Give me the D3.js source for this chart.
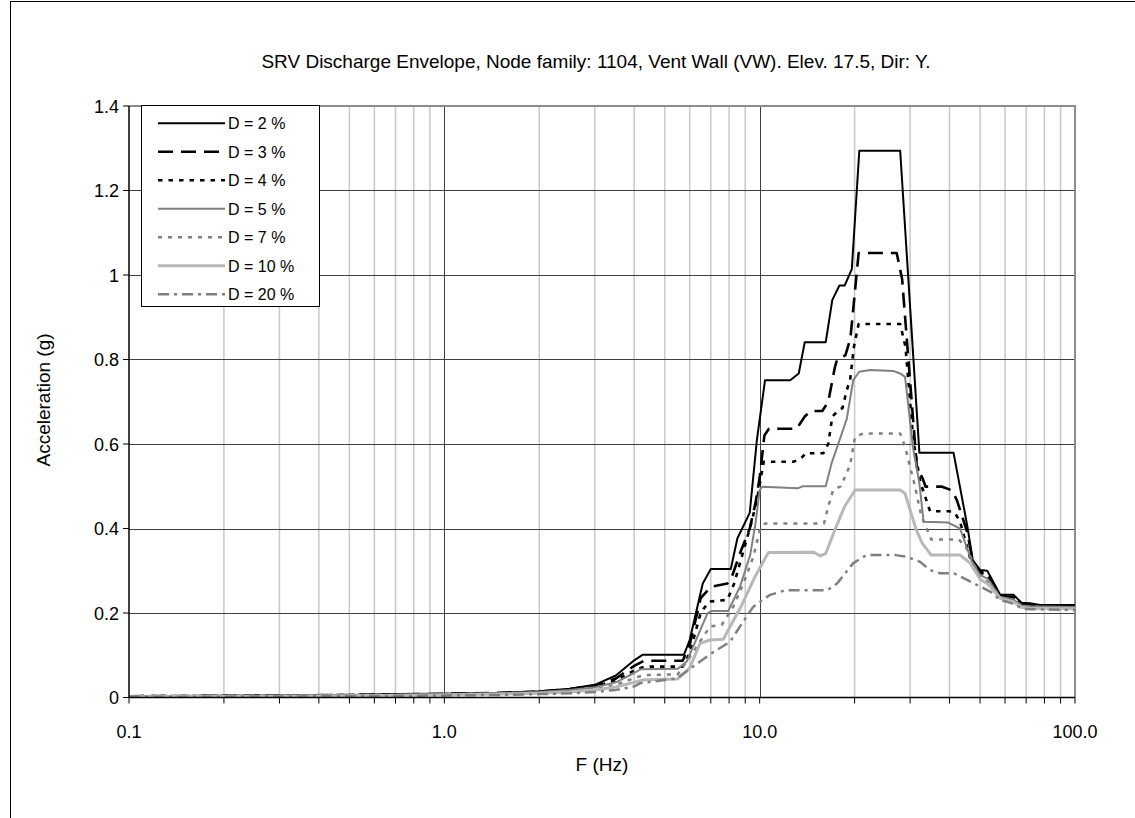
<!DOCTYPE html>
<html>
<head>
<meta charset="utf-8">
<script src="https://cdn.jsdelivr.net/npm/d3@7"></script>
<style>
  html, body { margin: 0; padding: 0; background: #fff; }
  svg text { font-family: "Liberation Sans", Arial, sans-serif; fill: #000; }
</style>
</head>
<body>
<svg id="chart" width="1135" height="818"></svg>
<script>
// ---------------- DATA ----------------
const chartTitle = "SRV Discharge Envelope, Node family: 1104, Vent Wall (VW). Elev. 17.5, Dir: Y.";
const xTitle = "F (Hz)";
const yTitle = "Acceleration (g)";
const xTickValues = [0.1, 1, 10, 100];
const xTickLabels = ["0.1", "1.0", "10.0", "100.0"];
const yTickValues = [0, 0.2, 0.4, 0.6, 0.8, 1, 1.2, 1.4];
const yTickLabels = ["0", "0.2", "0.4", "0.6", "0.8", "1", "1.2", "1.4"];
const seriesNames = ["D = 2 %", "D = 3 %", "D = 4 %", "D = 5 %", "D = 7 %", "D = 10 %", "D = 20 %"];

const freqD2 = [0.1,0.2,0.3,0.5,0.7,1.0,1.5,2.0,2.5,3.0,3.5,4.0,4.25,5.75,6.0,6.6,7.0,8.1,8.5,9.3,9.8,10.4,12.5,13.3,13.9,16.2,17.0,17.9,18.6,19.6,20.7,27.9,32.1,41.2,45.6,47.4,50.0,52.7,57.9,63.8,67.8,72.0,77.5,100];
const accD2  = [0.003,0.004,0.005,0.006,0.008,0.009,0.011,0.015,0.021,0.030,0.052,0.088,0.101,0.101,0.136,0.270,0.304,0.304,0.377,0.437,0.61,0.751,0.751,0.767,0.841,0.841,0.941,0.975,0.975,1.014,1.294,1.294,0.579,0.579,0.404,0.325,0.302,0.300,0.243,0.243,0.224,0.223,0.219,0.219];

const freqD3 = [0.1,0.2,0.3,0.5,0.7,1.0,1.5,2.0,2.5,3.0,3.5,4.0,4.3,5.7,6.0,6.5,7.0,7.9,8.2,8.7,9.3,9.7,10.0,10.35,10.7,13.1,13.9,14.5,15.8,16.5,17.3,17.6,18.7,19.4,20.6,27.2,28.3,31.5,32.8,33.6,37.9,40.8,42.2,45.6,47.4,50.0,52.7,57.9,63.8,67.8,72.0,77.5,100];
const accD3  = [0.003,0.004,0.005,0.006,0.007,0.009,0.011,0.014,0.020,0.028,0.045,0.075,0.087,0.087,0.125,0.235,0.262,0.270,0.29,0.345,0.40,0.46,0.52,0.62,0.636,0.636,0.665,0.678,0.678,0.70,0.78,0.80,0.81,0.85,1.052,1.052,0.99,0.546,0.52,0.499,0.499,0.49,0.467,0.39,0.32,0.298,0.295,0.240,0.238,0.222,0.220,0.218,0.218];

const freqD4 = [0.1,0.2,0.5,1.0,1.5,2.0,2.5,3.0,3.5,4.0,4.3,5.7,6.0,6.5,6.9,7.9,8.3,8.9,9.4,9.8,10.3,12.8,13.5,14.0,15.9,16.5,17.0,17.8,18.3,18.9,19.35,19.9,20.6,27.9,29.0,30.7,32.3,34.7,39.9,41.6,43.2,46.5,50.0,52.7,57.9,63.8,67.8,72.0,100];
const accD4  = [0.003,0.004,0.006,0.008,0.010,0.013,0.019,0.026,0.040,0.064,0.073,0.073,0.105,0.20,0.227,0.231,0.27,0.349,0.412,0.467,0.558,0.558,0.565,0.578,0.578,0.60,0.665,0.68,0.685,0.728,0.751,0.83,0.884,0.884,0.83,0.61,0.51,0.441,0.441,0.437,0.416,0.33,0.295,0.290,0.238,0.235,0.220,0.218,0.216];

const freqD5 = [0.1,0.2,0.5,1.0,1.5,2.0,2.5,3.0,3.5,4.0,4.2,5.5,5.87,6.83,7.04,7.95,8.66,9.33,9.7,10.0,10.2,13.2,13.7,16.2,16.9,17.75,18.9,19.8,20.7,22.4,26.5,27.9,28.9,29.4,30.6,32.1,33.1,39.6,43.2,46.9,50.0,53.0,57.9,63.8,67.8,72.0,100];
const accD5  = [0.002,0.003,0.005,0.008,0.010,0.013,0.018,0.024,0.036,0.058,0.067,0.068,0.085,0.199,0.205,0.205,0.262,0.337,0.412,0.491,0.499,0.495,0.50,0.50,0.554,0.60,0.66,0.751,0.771,0.775,0.773,0.767,0.759,0.712,0.594,0.507,0.416,0.414,0.40,0.325,0.29,0.280,0.238,0.232,0.218,0.216,0.214];

const freqD7 = [0.1,0.2,0.5,1.0,1.5,2.0,2.5,3.0,3.5,4.0,4.3,5.5,6.02,6.96,7.58,8.25,8.88,9.55,10.0,10.4,16.0,16.5,17.1,18.1,19.35,20.07,21.3,27.9,28.9,31.1,32.5,35.0,42.8,45.0,50.0,53.0,57.9,63.8,67.8,72.0,100];
const accD7  = [0.002,0.003,0.005,0.007,0.009,0.012,0.016,0.021,0.030,0.046,0.053,0.055,0.097,0.168,0.172,0.215,0.27,0.333,0.395,0.412,0.412,0.452,0.491,0.50,0.55,0.617,0.625,0.625,0.594,0.499,0.432,0.374,0.374,0.357,0.285,0.272,0.236,0.228,0.215,0.213,0.211];

const freqD10 = [0.1,0.2,0.5,1.0,1.5,2.0,2.5,3.0,3.5,4.0,4.3,5.5,6.0,6.47,6.96,7.67,8.06,8.78,9.55,10.2,10.66,14.8,15.6,16.2,17.3,18.6,20.07,27.9,28.9,31.4,32.8,35.0,43.2,46.5,50.0,53.0,57.9,63.8,67.8,72.0,100];
const accD10  = [0.002,0.003,0.004,0.006,0.008,0.010,0.013,0.018,0.025,0.036,0.042,0.044,0.07,0.128,0.136,0.138,0.168,0.219,0.278,0.318,0.343,0.344,0.335,0.341,0.396,0.452,0.491,0.491,0.483,0.396,0.365,0.337,0.337,0.318,0.28,0.268,0.235,0.226,0.213,0.211,0.210];

const freqD20 = [0.1,0.2,0.5,1.0,1.5,2.0,2.5,3.0,3.5,4.0,4.18,5.46,6.47,7.05,8.06,8.66,9.55,10.79,11.61,12.1,16.4,17.6,19.8,21.8,27.0,29.3,32.3,34.6,37.3,41.3,44.5,49.0,54.0,57.9,63.8,67.8,72.0,100];
const accD20  = [0.002,0.002,0.003,0.005,0.006,0.008,0.010,0.013,0.018,0.026,0.034,0.045,0.085,0.105,0.132,0.168,0.215,0.243,0.25,0.254,0.254,0.27,0.318,0.337,0.337,0.333,0.321,0.302,0.294,0.294,0.282,0.266,0.25,0.231,0.222,0.211,0.209,0.207];

const seriesFreqs = [freqD2, freqD3, freqD4, freqD5, freqD7, freqD10, freqD20];
const seriesAccs  = [accD2, accD3, accD4, accD5, accD7, accD10, accD20];

// ---------------- STYLES ----------------
const seriesStyles = [
  { color: "#000000", width: 2,   dash: null },
  { color: "#000000", width: 2.6, dash: "15,8" },
  { color: "#000000", width: 2.6, dash: "4.5,6" },
  { color: "#808080", width: 2,   dash: null },
  { color: "#808080", width: 2.5, dash: "4,6" },
  { color: "#b8b8b8", width: 3,   dash: null },
  { color: "#808080", width: 2.5, dash: "11,5,3,5" }
];
const titleFont = 19;
const axisTitleFont = 19;
const tickFont = 18;
const legendFont = 16;

// ---------------- LAYOUT ----------------
const svg = d3.select("#chart");
const plot = { left: 129, right: 1075, top: 106, bottom: 697.5 };

svg.append("rect").attr("x", 0).attr("y", 0).attr("width", 1135).attr("height", 818).attr("fill", "#fff");
// outer chart border
svg.append("rect").attr("x", 10.5).attr("y", 1.5).attr("width", 1200).attr("height", 900)
  .attr("fill", "none").attr("stroke", "#000").attr("stroke-width", 1);

const x = d3.scaleLog().domain([0.1, 100]).range([plot.left, plot.right]);
const y = d3.scaleLinear().domain([0, 1.4]).range([plot.bottom, plot.top]);

// minor vertical grid
const minorX = [];
[0.1, 1, 10].forEach(dec => { for (let k = 2; k <= 9; k++) minorX.push(dec * k); });
svg.append("g").selectAll("line").data(minorX).join("line")
  .attr("x1", d => x(d)).attr("x2", d => x(d))
  .attr("y1", plot.top).attr("y2", plot.bottom)
  .attr("stroke", "#c8c8c8").attr("stroke-width", 1.5);
// major vertical grid
svg.append("g").selectAll("line").data([1, 10]).join("line")
  .attr("x1", d => Math.round(x(d)) + 0.5).attr("x2", d => Math.round(x(d)) + 0.5)
  .attr("y1", plot.top).attr("y2", plot.bottom)
  .attr("stroke", "#404040").attr("stroke-width", 1);
// horizontal grid
svg.append("g").selectAll("line").data(yTickValues.slice(1, -1)).join("line")
  .attr("x1", plot.left).attr("x2", plot.right)
  .attr("y1", d => Math.round(y(d)) + 0.5).attr("y2", d => Math.round(y(d)) + 0.5)
  .attr("stroke", "#404040").attr("stroke-width", 1);

// plot border (top / right)
svg.append("path")
  .attr("d", `M${plot.left},${plot.top}H${plot.right}V${plot.bottom}`)
  .attr("fill", "none").attr("stroke", "#8c8c8c").attr("stroke-width", 2);

// ---------------- SERIES ----------------
const line = d3.line().x(d => x(d[0])).y(d => y(d[1]));
svg.append("clipPath").attr("id", "clip").append("rect")
  .attr("x", plot.left).attr("y", plot.top - 2).attr("width", plot.right - plot.left).attr("height", plot.bottom - plot.top + 2);
const gSeries = svg.append("g").attr("clip-path", "url(#clip)");
seriesFreqs.forEach((fr, i) => {
  const pts = fr.map((f, j) => [f, seriesAccs[i][j]]);
  const st = seriesStyles[i];
  gSeries.append("path").datum(pts)
    .attr("d", line)
    .attr("fill", "none")
    .attr("stroke", st.color)
    .attr("stroke-width", st.width)
    .attr("stroke-dasharray", st.dash)
    .attr("stroke-linejoin", "round");
});

// ---------------- AXES ----------------
const xAxisG = svg.append("g").attr("transform", `translate(0,${plot.bottom})`);
const allXTicks = xTickValues.concat(minorX);
xAxisG.selectAll("line.tick").data(allXTicks).join("line")
  .attr("x1", d => x(d)).attr("x2", d => x(d)).attr("y1", 0).attr("y2", 6)
  .attr("stroke", "#000").attr("stroke-width", 1);
xAxisG.append("line").attr("x1", plot.left).attr("x2", plot.right).attr("y1", 0).attr("y2", 0)
  .attr("stroke", "#000").attr("stroke-width", 1.5);
xAxisG.selectAll("text").data(xTickValues).join("text")
  .attr("x", d => x(d)).attr("y", 40)
  .attr("text-anchor", "middle").attr("font-size", tickFont)
  .text((d, i) => xTickLabels[i]);

const yAxisG = svg.append("g").attr("transform", `translate(${plot.left},0)`);
yAxisG.append("line").attr("x1", 0).attr("x2", 0).attr("y1", plot.top).attr("y2", plot.bottom)
  .attr("stroke", "#000").attr("stroke-width", 1.5);
yAxisG.selectAll("line.tick").data(yTickValues).join("line")
  .attr("x1", -6).attr("x2", 0).attr("y1", d => y(d)).attr("y2", d => y(d))
  .attr("stroke", "#000").attr("stroke-width", 1);
yAxisG.selectAll("text").data(yTickValues).join("text")
  .attr("x", -10).attr("y", d => y(d) + 6.5)
  .attr("text-anchor", "end").attr("font-size", tickFont)
  .text((d, i) => yTickLabels[i]);

// titles
svg.append("text").attr("x", 596).attr("y", 68).attr("text-anchor", "middle").attr("font-size", titleFont).text(chartTitle);
svg.append("text").attr("x", 602).attr("y", 771).attr("text-anchor", "middle").attr("font-size", axisTitleFont).text(xTitle);
svg.append("text").attr("transform", "translate(50,400) rotate(-90)").attr("text-anchor", "middle").attr("font-size", axisTitleFont).text(yTitle);

// ---------------- LEGEND ----------------
const lg = svg.append("g");
lg.append("rect").attr("x", 141.5).attr("y", 105.5).attr("width", 178).attr("height", 201)
  .attr("fill", "#fff").attr("stroke", "#000").attr("stroke-width", 1);
seriesNames.forEach((name, i) => {
  const yy = 123.3 + i * 28.5;
  const st = seriesStyles[i];
  lg.append("line").attr("x1", 158).attr("x2", 225).attr("y1", yy).attr("y2", yy)
    .attr("stroke", st.color).attr("stroke-width", st.width).attr("stroke-dasharray", st.dash);
  lg.append("text").attr("x", 228).attr("y", yy + 6).attr("font-size", legendFont).text(name);
});
</script>
</body>
</html>
